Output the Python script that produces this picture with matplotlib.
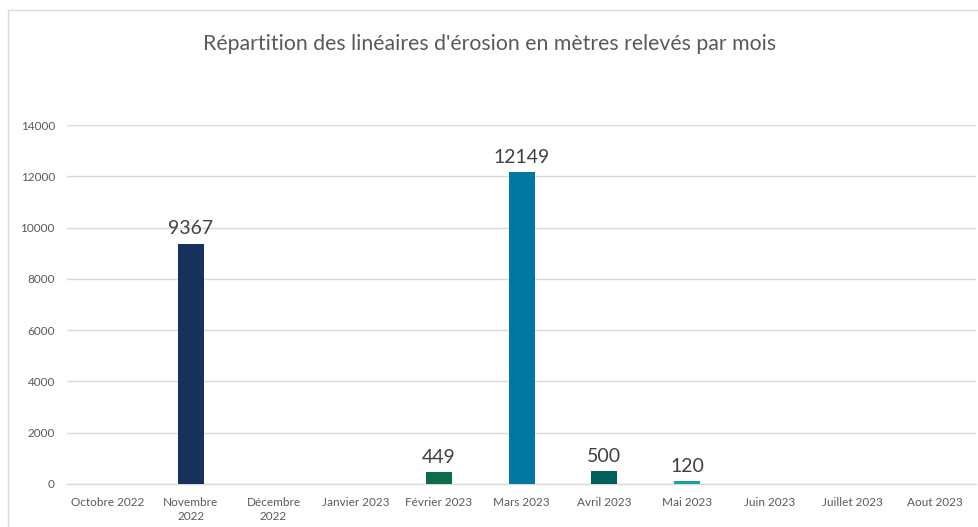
import matplotlib
matplotlib.use('Agg')
import matplotlib.pyplot as plt
from matplotlib.patches import Rectangle

#---------------------DATA---------------------#
mois = ['Octobre 2022', 'Novembre\n2022', 'Décembre\n2022', 'Janvier 2023',
        'Février 2023', 'Mars 2023', 'Avril 2023', 'Mai 2023', 'Juin 2023',
        'Juillet 2023', 'Aout 2023']
lineaires = [0, 9367, 0, 0, 449, 12149, 500, 120, 0, 0, 0]
couleurs = ['#17325a', '#17325a', '#17325a', '#17325a', '#0e6b4e', '#0077a0',
            '#035f5b', '#16a3a0', '#16a3a0', '#16a3a0', '#16a3a0']
yticks = [0, 2000, 4000, 6000, 8000, 10000, 12000, 14000]

titre = "Répartition des linéaires d'érosion en mètres relevés par mois"

#---------------------PLOT---------------------#
plt.rcParams['font.family'] = ['Lato', 'DejaVu Sans']

fig = plt.figure(figsize=(9.79, 5.27), dpi=100)
# cadre du graphique (coupé à droite et en bas)
fig.patches.append(Rectangle((8 / 979, -0.1), 1.2, 1.1 - 10 / 527,
                             transform=fig.transFigure, fill=False,
                             edgecolor='#d9d9d9', linewidth=1))

ax = fig.add_axes([66.7 / 979, 43 / 527, 909.7 / 979, 359 / 527])
x = range(len(mois))
ax.bar(x, lineaires, width=0.315, color=couleurs, zorder=3)

for xi, v in zip(x, lineaires):
    if v > 0:
        ax.text(xi, v + 250, str(v), ha='center', va='bottom',
                fontsize=14, color='#404040')

ax.set_xlim(-0.5, len(mois) - 0.5)
ax.set_ylim(0, 14000)
ax.set_yticks(yticks)
ax.set_xticks(list(x))
ax.set_xticklabels(mois, fontsize=8.5, color='#595959', linespacing=1.4)
ax.tick_params(axis='y', labelsize=8.5, labelcolor='#595959', length=0, pad=8.5)
ax.tick_params(axis='x', length=0, pad=9)
ax.grid(axis='y', color='#d9d9d9', linewidth=1, zorder=0)
for s in ['top', 'right', 'left']:
    ax.spines[s].set_visible(False)
ax.spines['bottom'].set_color('#d9d9d9')
ax.spines['bottom'].set_linewidth(1)

fig.text(490 / 979, 1 - 44 / 527, titre, ha='center', va='center',
         fontsize=15.3, color='#595959')

fig.savefig('out.png', dpi=100)
